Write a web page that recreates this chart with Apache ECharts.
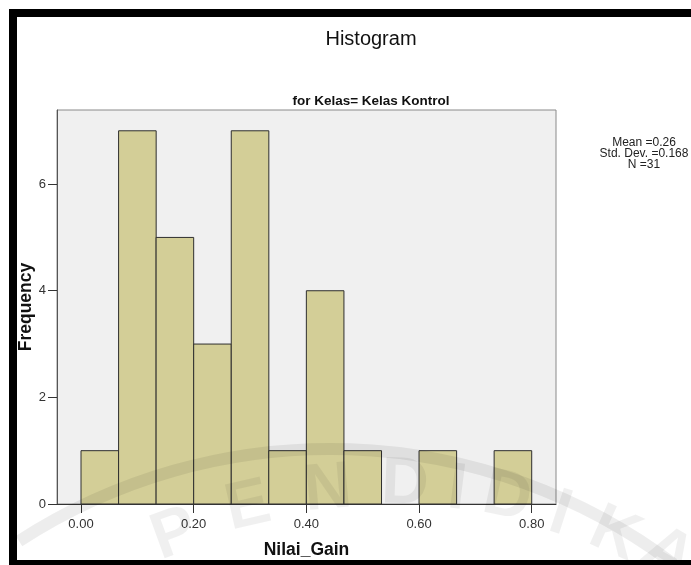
<!DOCTYPE html>
<html>
<head>
<meta charset="utf-8">
<script src="https://cdn.jsdelivr.net/npm/echarts@6/dist/echarts.min.js"></script>
<style>
  html, body { margin: 0; padding: 0; background: #fff; }
  #main { width: 691px; height: 565px; }
</style>
</head>
<body>
<div id="main"></div>
<script>
// histogram bins of Nilai_Gain (lower edge), width 0.8 / 12
var binLower = [0.0000, 0.0667, 0.1333, 0.2000, 0.2667, 0.3333, 0.4000, 0.4667, 0.5333, 0.6000, 0.6667, 0.7333];
var binWidth = 0.0667;
var frequency = [1, 7, 5, 3, 7, 1, 4, 1, 0, 1, 0, 1];
var xTicks = [0, 0.2, 0.4, 0.6, 0.8];
var yTicks = [0, 2, 4, 6];
var statLines = ['Mean =0.26', 'Std. Dev. =0.168', 'N =31'];

var FONT = '"Liberation Sans", Arial, sans-serif';

var barData = binLower.map(function(lo, i) {
  return [lo, lo + binWidth, frequency[i]];
});

function renderBar(params, api) {
  var y = api.value(2);
  if (!y) return null;
  var p0 = api.coord([api.value(0), 0]);
  var p1 = api.coord([api.value(1), y]);
  return {
    type: 'rect',
    shape: { x: p0[0], y: p1[1], width: p1[0] - p0[0], height: p0[1] - p1[1] },
    style: { fill: '#d3ce97', stroke: '#2e2e2e', lineWidth: 1 }
  };
}

// faint scanned watermark (decoration only)
var wmLetters = [
  ['P', 175, 535, 20], ['E', 248, 507, 13], ['N', 328, 490, 5],
  ['D', 405, 485, -2], ['I', 457, 490, -7], ['D', 507, 498, -12],
  ['I', 560, 515, -18], ['K', 615, 535, -24], ['A', 668, 555, -30]
];
var watermark = wmLetters.map(function(d) {
  return {
    type: 'text', x: d[1], y: d[2], rotation: d[3] * Math.PI / 180, z: 100, silent: true,
    style: {
      text: d[0], font: 'bold 66px ' + FONT, fill: 'rgba(0,0,0,0.06)',
      textAlign: 'center', textVerticalAlign: 'middle'
    }
  };
});
watermark.push({
  type: 'arc', z: 100, silent: true,
  shape: { cx: 330, cy: 1020, r: 571, startAngle: -123 * Math.PI / 180, endAngle: -53 * Math.PI / 180 },
  style: { stroke: 'rgba(0,0,0,0.07)', lineWidth: 12, fill: null }
});

var myChart = echarts.init(document.getElementById('main'));
var option = {
  backgroundColor: '#fff',
  animation: false,
  textStyle: { fontFamily: FONT },
  title: [
    {
      text: 'Histogram', left: 366, top: 24, textAlign: 'center',
      textStyle: { fontFamily: FONT, fontSize: 20, fontWeight: 'normal', color: '#111' }
    },
    {
      text: 'for Kelas= Kelas Kontrol', left: 366, top: 89, textAlign: 'center',
      textStyle: { fontFamily: FONT, fontSize: 13.5, fontWeight: 'bold', color: '#111' }
    }
  ],
  grid: {
    left: 57, right: 135, top: 110, bottom: 61,
    show: true, backgroundColor: '#f0f0f0', borderColor: '#8a8a8a', borderWidth: 1
  },
  xAxis: {
    type: 'value',
    min: -0.0426,
    max: 0.8431,
    name: 'Nilai_Gain',
    nameLocation: 'middle',
    nameGap: 37,
    nameTextStyle: { fontFamily: FONT, fontSize: 17.5, fontWeight: 'bold', color: '#111' },
    axisLine: { onZero: false, lineStyle: { color: '#333', width: 1 } },
    axisTick: { customValues: xTicks, length: 9, lineStyle: { color: '#333' } },
    axisLabel: {
      customValues: xTicks, margin: 14, fontSize: 13, color: '#333',
      formatter: function(v) { return v.toFixed(2); }
    },
    splitLine: { show: false }
  },
  yAxis: {
    type: 'value',
    min: 0,
    max: 7.39,
    name: 'Frequency',
    nameLocation: 'middle',
    nameGap: 22,
    nameMoveOverlap: false,
    nameTextStyle: { fontFamily: FONT, fontSize: 17.5, fontWeight: 'bold', color: '#111' },
    axisLine: { show: true, onZero: false, lineStyle: { color: '#555', width: 1 } },
    axisTick: { show: true, customValues: yTicks, length: 9, lineStyle: { color: '#333' } },
    axisLabel: { customValues: yTicks, margin: 11, fontSize: 13, color: '#333' },
    splitLine: { show: false }
  },
  graphic: [
    // black frame of the output window
    { type: 'rect', z: 110, shape: { x: 9, y: 9, width: 682, height: 8 }, style: { fill: '#000' } },
    { type: 'rect', z: 110, shape: { x: 9, y: 9, width: 8, height: 556 }, style: { fill: '#000' } },
    { type: 'rect', z: 110, shape: { x: 9, y: 560, width: 682, height: 5 }, style: { fill: '#000' } },
    {
      type: 'text', x: 644, y: 137,
      style: {
        text: statLines.join('\n'), fill: '#222', font: '12px ' + FONT,
        textAlign: 'center', lineHeight: 11
      }
    }
  ].concat(watermark),
  series: [{
    type: 'custom',
    renderItem: renderBar,
    encode: { x: [0, 1], y: 2 },
    data: barData,
    clip: true
  }]
};
myChart.setOption(option);
</script>
</body>
</html>
